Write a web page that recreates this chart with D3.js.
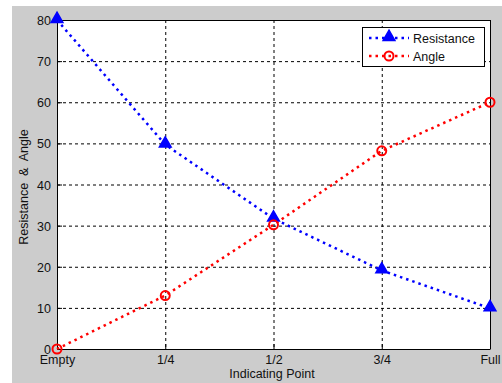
<!DOCTYPE html>
<html>
<head>
<meta charset="utf-8">
<script src="https://cdn.jsdelivr.net/npm/d3@7"></script>
<style>
  body { margin: 0; background: #fff; }
  text { font-family: "Liberation Sans", Arial, sans-serif; }
</style>
</head>
<body>
<script>
// Storrelse paa figuren
const w = 502;
const h = 383;

// Data
const categories = ["Empty", "1/4", "1/2", "3/4", "Full"];
const resistance = [80, 49.7, 31.7, 19.1, 9.9];
const angle = [0, 13, 30.2, 48.2, 60];
const yTicks = [0, 10, 20, 30, 40, 50, 60, 70, 80];

// Plotomraade
const pLeft = 57, pRight = 490, pTop = 20, pBottom = 349;
const fs = "12.5px";

const svg = d3.select("body").append("svg").attr("width", w).attr("height", h);

// Graa baggrund
svg.append("rect")
  .attr("x", 12).attr("y", 6)
  .attr("width", w - 12).attr("height", h - 6)
  .attr("fill", "#cccccc");

svg.append("rect")
  .attr("x", pLeft).attr("y", pTop)
  .attr("width", pRight - pLeft).attr("height", pBottom - pTop)
  .attr("fill", "#ffffff");

const xScale = d3.scalePoint().domain(categories).range([pLeft, pRight]);
const yScale = d3.scaleLinear().domain([0, 80]).range([pBottom, pTop]);

// Gitter
svg.append("g")
  .selectAll("line")
  .data(categories.slice(1, -1))
  .enter()
  .append("line")
  .attr("x1", d => xScale(d) + 0.5).attr("x2", d => xScale(d) + 0.5)
  .attr("y1", pTop).attr("y2", pBottom)
  .attr("stroke", "#000").attr("stroke-width", 1)
  .attr("stroke-dasharray", "3,3");

svg.append("g")
  .selectAll("line")
  .data(yTicks.slice(1, -1))
  .enter()
  .append("line")
  .attr("x1", pLeft).attr("x2", pRight)
  .attr("y1", d => yScale(d) + 0.5).attr("y2", d => yScale(d) + 0.5)
  .attr("stroke", "#000").attr("stroke-width", 1)
  .attr("stroke-dasharray", "3,3");

// Akser
const xAxis = d3.axisBottom(xScale).tickSizeInner(-5).tickSizeOuter(0).tickPadding(6);
const yAxis = d3.axisLeft(yScale).tickValues(yTicks).tickSizeInner(-5).tickSizeOuter(0).tickPadding(6);

const gx = svg.append("g")
  .attr("transform", "translate(0," + pBottom + ")")
  .call(xAxis);
const gy = svg.append("g")
  .attr("transform", "translate(" + pLeft + ",0)")
  .call(yAxis);

[gx, gy].forEach(g => {
  g.select(".domain").attr("stroke", "#000");
  g.selectAll(".tick line").attr("stroke", "#000");
  g.selectAll("text")
    .attr("font-family", "Liberation Sans, Arial, sans-serif")
    .attr("font-size", fs)
    .attr("fill", "#111");
});
gy.selectAll("text").attr("dy", "0.36em");

// Ramme oeverst og til hoejre
svg.append("line").attr("x1", pLeft).attr("x2", pRight + 0.5)
  .attr("y1", pTop + 0.5).attr("y2", pTop + 0.5).attr("stroke", "#000");
svg.append("line").attr("x1", pRight + 0.5).attr("x2", pRight + 0.5)
  .attr("y1", pTop).attr("y2", pBottom).attr("stroke", "#000");

// Aksetitler
svg.append("text")
  .attr("x", 272).attr("y", 378)
  .attr("text-anchor", "middle")
  .attr("font-size", fs)
  .attr("fill", "#111")
  .text("Indicating Point");

svg.append("text")
  .attr("transform", "translate(27.5,187) rotate(-90)")
  .attr("text-anchor", "middle")
  .attr("font-size", fs)
  .attr("fill", "#111")
  .style("white-space", "pre")
  .text("Resistance  &  Angle");

// Linjer
const line = d3.line()
  .x((d, i) => xScale(categories[i]))
  .y(d => yScale(d));

svg.append("path")
  .datum(resistance)
  .attr("d", line)
  .attr("fill", "none")
  .attr("stroke", "#0000ff")
  .attr("stroke-width", 2.5)
  .attr("stroke-dasharray", "2.5,4");

svg.append("path")
  .datum(angle)
  .attr("d", line)
  .attr("fill", "none")
  .attr("stroke", "#ff0000")
  .attr("stroke-width", 2.5)
  .attr("stroke-dasharray", "2.5,4");

// Markoerer
const tri = d3.symbol().type(d3.symbolTriangle).size(60);

svg.append("g")
  .selectAll("path")
  .data(resistance)
  .enter()
  .append("path")
  .attr("d", tri)
  .attr("transform", (d, i) => "translate(" + xScale(categories[i]) + "," + (yScale(d) - 1) + ")")
  .attr("fill", "#0000ff")
  .attr("stroke", "#0000ff")
  .attr("stroke-width", 1.5);

svg.append("g")
  .selectAll("circle")
  .data(angle)
  .enter()
  .append("circle")
  .attr("cx", (d, i) => xScale(categories[i]))
  .attr("cy", d => yScale(d))
  .attr("r", 4.5)
  .attr("fill", "none")
  .attr("stroke", "#ff0000")
  .attr("stroke-width", 2);

// Legende
const legend = svg.append("g");
legend.append("rect")
  .attr("x", 362.5).attr("y", 27.5)
  .attr("width", 122).attr("height", 39)
  .attr("fill", "#fff").attr("stroke", "#000");

const legendItems = [
  { name: "Resistance", color: "#0000ff", y: 38 },
  { name: "Angle", color: "#ff0000", y: 56 }
];

legendItems.forEach((it, i) => {
  legend.append("line")
    .attr("x1", 369).attr("x2", 409)
    .attr("y1", it.y).attr("y2", it.y)
    .attr("stroke", it.color)
    .attr("stroke-width", 2.5)
    .attr("stroke-dasharray", "2.5,4");
  if (i === 0) {
    legend.append("path")
      .attr("d", tri)
      .attr("transform", "translate(389," + (it.y - 1) + ")")
      .attr("fill", it.color).attr("stroke", it.color).attr("stroke-width", 1.5);
  } else {
    legend.append("circle")
      .attr("cx", 389).attr("cy", it.y).attr("r", 4.5)
      .attr("fill", "none").attr("stroke", it.color).attr("stroke-width", 2);
  }
  legend.append("text")
    .attr("x", 413).attr("y", it.y + 4.5)
    .attr("font-size", fs)
    .attr("fill", "#111")
    .text(it.name);
});
</script>
</body>
</html>
